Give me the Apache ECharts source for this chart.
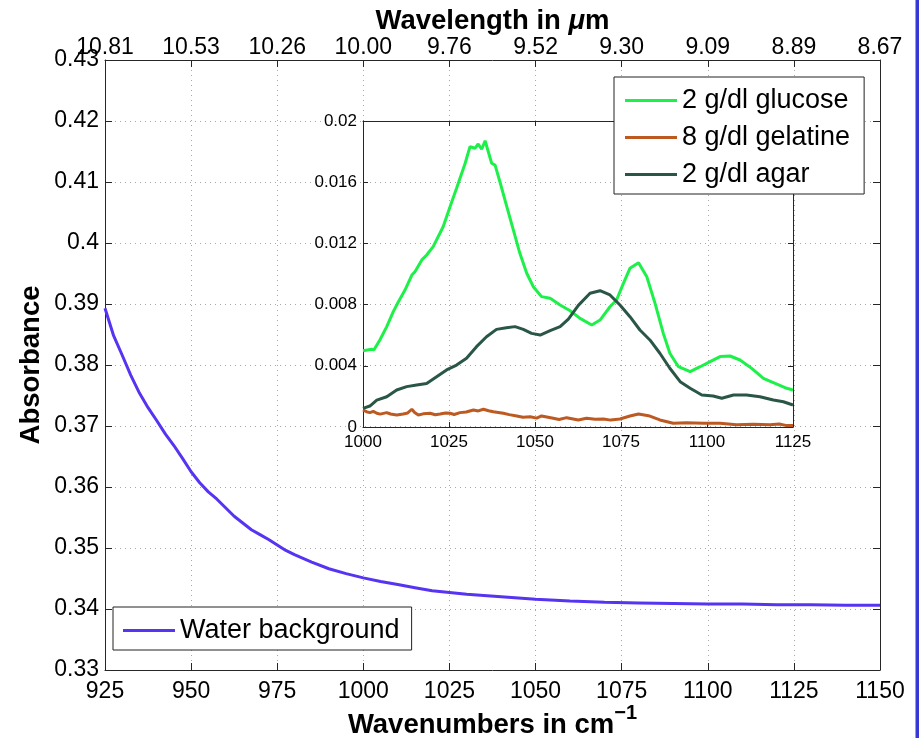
<!DOCTYPE html>
<html>
<head>
<meta charset="utf-8">
<title>Absorbance spectra</title>
<script src="https://cdn.jsdelivr.net/npm/echarts@6/dist/echarts.min.js"></script>
<style>
  html, body { margin: 0; padding: 0; background: #ffffff; }
  #chart { width: 919px; height: 738px; }
</style>
</head>
<body>
<div id="chart"></div>
<script>
// Water background absorbance over the full wavenumber range (cm^-1)
const waterWn = [925, 927.5, 930, 932.5, 935, 937.5, 940, 942.5, 945, 947.5, 950, 952.5, 955, 957.5, 960, 962.5, 965, 967.5, 970, 972.5, 975, 977.5, 980, 985, 990, 995, 1000, 1005, 1010, 1015, 1020, 1025, 1030, 1035, 1040, 1045, 1050, 1060, 1070, 1080, 1090, 1100, 1110, 1120, 1130, 1140, 1150];
const waterAbs = [0.3893, 0.3848, 0.3816, 0.3783, 0.3754, 0.3730, 0.3709, 0.3687, 0.3668, 0.3647, 0.3625, 0.3607, 0.3592, 0.3580, 0.3566, 0.3552, 0.3541, 0.3530, 0.3522, 0.3514, 0.3505, 0.3496, 0.3489, 0.3477, 0.3466, 0.3458, 0.3451, 0.3445, 0.3440, 0.3435, 0.3430, 0.3427, 0.3424, 0.3422, 0.3420, 0.3418, 0.3416, 0.3413, 0.3411, 0.3410, 0.3409, 0.3408, 0.3408, 0.3407, 0.3407, 0.3406, 0.3406];

// Inset: background-corrected sample spectra
const glucoseWn = [1000, 1002.5, 1003.2, 1004.9, 1006.9, 1008.8, 1010.3, 1012.2, 1014.2, 1015.1, 1017.1, 1018.5, 1020.4, 1023.3, 1025.3, 1027.2, 1029.7, 1031.1, 1032.6, 1033.5, 1034.5, 1035.5, 1037.4, 1038.4, 1039.8, 1041.8, 1043.7, 1045.6, 1047.6, 1049.5, 1051.9, 1054.4, 1057.3, 1060.2, 1063.1, 1066.5, 1068.9, 1071.8, 1073.7, 1075.7, 1077.6, 1080.1, 1082.5, 1084.9, 1087.3, 1089.2, 1091.7, 1095.1, 1098.0, 1100.9, 1103.8, 1106.7, 1109.6, 1113.0, 1116.4, 1119.8, 1123.2, 1125];
const glucoseAbs = [0.00499, 0.00508, 0.00505, 0.00569, 0.00656, 0.00754, 0.00819, 0.00895, 0.00993, 0.01015, 0.01092, 0.01124, 0.01179, 0.01309, 0.01440, 0.01560, 0.01724, 0.01832, 0.01822, 0.01850, 0.01815, 0.01871, 0.01724, 0.01712, 0.01603, 0.01440, 0.01288, 0.01135, 0.01005, 0.00917, 0.00852, 0.00841, 0.00797, 0.00760, 0.00710, 0.00667, 0.00699, 0.00786, 0.00830, 0.00939, 0.01037, 0.01074, 0.00982, 0.00808, 0.00612, 0.00482, 0.00394, 0.00362, 0.00394, 0.00427, 0.00460, 0.00464, 0.00438, 0.00383, 0.00318, 0.00285, 0.00253, 0.00242];

const gelatineWn = [1000, 1001, 1002, 1003, 1004, 1005, 1006.9, 1008, 1009.8, 1011.7, 1013, 1014.2, 1015, 1016.1, 1017.5, 1019.5, 1021, 1022.4, 1024, 1025.3, 1026.5, 1028.2, 1030, 1032.1, 1033.5, 1035, 1036.5, 1037.9, 1040.8, 1042.5, 1044.7, 1046.5, 1048.6, 1050.5, 1051.9, 1055.3, 1057, 1059.2, 1062.6, 1065, 1067.5, 1069.9, 1072, 1074.7, 1077.6, 1080.1, 1083, 1086.3, 1090.2, 1094.1, 1099, 1103.8, 1108.6, 1113.5, 1118.3, 1121, 1123.2, 1125];
const gelatineAbs = [0.00111, 0.00100, 0.00094, 0.00102, 0.00090, 0.00084, 0.00094, 0.00085, 0.00078, 0.00085, 0.00092, 0.00116, 0.00095, 0.00078, 0.00086, 0.00090, 0.00080, 0.00085, 0.00092, 0.00090, 0.00082, 0.00094, 0.00098, 0.00111, 0.00105, 0.00116, 0.00106, 0.00100, 0.00090, 0.00081, 0.00072, 0.00064, 0.00067, 0.00058, 0.00072, 0.00057, 0.00049, 0.00061, 0.00046, 0.00057, 0.00050, 0.00052, 0.00045, 0.00052, 0.00072, 0.00085, 0.00074, 0.00046, 0.00024, 0.00028, 0.00024, 0.00024, 0.00015, 0.00018, 0.00015, 0.00020, 0.00009, 0.00009];

const agarWn = [1000, 1002, 1004, 1006.9, 1009.8, 1012.7, 1015.6, 1018.5, 1021.4, 1024.3, 1027.2, 1030.1, 1033, 1035.9, 1038.8, 1041.7, 1044.2, 1046.6, 1049, 1051.5, 1054.4, 1057.3, 1059.7, 1062.6, 1066, 1068.9, 1071.8, 1074.7, 1077.6, 1080.5, 1083.4, 1086.3, 1089.2, 1092.2, 1095.1, 1098.5, 1101.8, 1104.3, 1107.7, 1111.5, 1115.4, 1119.3, 1122.2, 1125];
const agarAbs = [0.00122, 0.00137, 0.00176, 0.00198, 0.00242, 0.00264, 0.00275, 0.00285, 0.00329, 0.00373, 0.00405, 0.00449, 0.00525, 0.00590, 0.00638, 0.00649, 0.00656, 0.00638, 0.00612, 0.00601, 0.00630, 0.00656, 0.00705, 0.00795, 0.00874, 0.00891, 0.00863, 0.00797, 0.00721, 0.00634, 0.00569, 0.00482, 0.00384, 0.00296, 0.00253, 0.00209, 0.00203, 0.00188, 0.00209, 0.00209, 0.00198, 0.00176, 0.00165, 0.00144];

// Tick labels
const wavenumberTicks = ['925', '950', '975', '1000', '1025', '1050', '1075', '1100', '1125', '1150'];
const wavelengthTicks = ['10.81', '10.53', '10.26', '10.00', '9.76', '9.52', '9.30', '9.09', '8.89', '8.67'];
const absorbanceTicks = ['0.33', '0.34', '0.35', '0.36', '0.37', '0.38', '0.39', '0.4', '0.41', '0.42', '0.43'];
const insetXTicks = ['1000', '1025', '1050', '1075', '1100', '1125'];
const insetYTicks = ['0', '0.004', '0.008', '0.012', '0.016', '0.02'];

const seriesNames = ['Water background', '2 g/dl glucose', '8 g/dl gelatine', '2 g/dl agar'];
const seriesColors = ['#5634f2', '#1ef04a', '#bd5a22', '#2a5646'];

const FONT = 'Liberation Sans, Arial, Helvetica, sans-serif';
const AXIS_COLOR = '#262626';

function pairs(xs, ys) { return xs.map((x, i) => [x, ys[i]]); }
function tickFrom(labels, min, step) {
  return v => { const i = Math.round((v - min) / step); return labels[i] !== undefined ? labels[i] : ''; };
}

const chart = echarts.init(document.getElementById('chart'), null, { renderer: 'canvas' });

const mainSplit = { show: true, lineStyle: { color: '#a8a8a8', type: [1, 4], width: 1 } };
const axisLine = { show: true, onZero: false, lineStyle: { color: AXIS_COLOR, width: 1 } };

chart.setOption({
  animation: false,
  backgroundColor: '#ffffff',
  textStyle: { fontFamily: FONT },
  grid: [
    { left: 105, top: 60, width: 775, height: 610, containLabel: false, outerBoundsMode: 'none' },
    { left: 363, top: 121, width: 430, height: 306, containLabel: false, outerBoundsMode: 'none' }
  ],
  xAxis: [
    {
      gridIndex: 0, type: 'value', position: 'bottom', min: 925, max: 1150, interval: 25,
      axisLine, axisTick: { show: true, inside: true, length: 7, lineStyle: { color: AXIS_COLOR } },
      axisLabel: { fontSize: 23, color: '#000', margin: 10, fontFamily: FONT, formatter: tickFrom(wavenumberTicks, 925, 25) },
      splitLine: mainSplit,
      name: '{a|Wavenumbers in cm}{s|\u22121}', nameLocation: 'middle', nameGap: 33, nameMoveOverlap: false,
      nameTextStyle: {
        rich: {
          a: { fontSize: 27.5, fontWeight: 'bold', color: '#000', fontFamily: FONT, lineHeight: 36, verticalAlign: 'bottom' },
          s: { fontSize: 20, fontWeight: 'bold', color: '#000', fontFamily: FONT, lineHeight: 20, verticalAlign: 'top' }
        }
      }
    },
    {
      gridIndex: 0, type: 'value', position: 'top', min: 925, max: 1150, interval: 25,
      axisLine, axisTick: { show: true, inside: true, length: 7, lineStyle: { color: AXIS_COLOR } },
      axisLabel: { fontSize: 23, color: '#000', margin: 1, fontFamily: FONT, formatter: tickFrom(wavelengthTicks, 925, 25) },
      splitLine: { show: false },
      name: '{a|Wavelength in }{i|\u03bc}{a|m}', nameLocation: 'middle', nameGap: 25, nameMoveOverlap: false,
      nameTextStyle: {
        rich: {
          a: { fontSize: 27.5, fontWeight: 'bold', color: '#000', fontFamily: FONT },
          i: { fontSize: 27.5, fontWeight: 'bold', fontStyle: 'italic', color: '#000', fontFamily: FONT }
        }
      }
    },
    {
      gridIndex: 1, type: 'value', position: 'bottom', min: 1000, max: 1125, interval: 25,
      axisLine, axisTick: { show: true, inside: true, length: 5, lineStyle: { color: AXIS_COLOR } },
      axisLabel: { fontSize: 17, color: '#000', margin: 7, fontFamily: FONT, formatter: tickFrom(insetXTicks, 1000, 25) },
      splitLine: { show: false }
    },
    {
      gridIndex: 1, type: 'value', position: 'top', min: 1000, max: 1125, interval: 25,
      axisLine, axisTick: { show: true, inside: true, length: 5, lineStyle: { color: AXIS_COLOR } },
      axisLabel: { show: false }, splitLine: { show: false }
    }
  ],
  yAxis: [
    {
      gridIndex: 0, type: 'value', position: 'left', min: 0.33, max: 0.43, interval: 0.01,
      axisLine, axisTick: { show: true, inside: true, length: 7, lineStyle: { color: AXIS_COLOR } },
      axisLabel: { fontSize: 23, color: '#000', margin: 6, fontFamily: FONT, formatter: tickFrom(absorbanceTicks, 0.33, 0.01) },
      splitLine: mainSplit,
      name: 'Absorbance', nameLocation: 'middle', nameGap: 60, nameRotate: 90, nameMoveOverlap: false,
      nameTextStyle: { fontSize: 27.5, fontWeight: 'bold', color: '#000', fontFamily: FONT }
    },
    {
      gridIndex: 0, type: 'value', position: 'right', min: 0.33, max: 0.43, interval: 0.01,
      axisLine, axisTick: { show: true, inside: true, length: 7, lineStyle: { color: AXIS_COLOR } },
      axisLabel: { show: false }, splitLine: { show: false }
    },
    {
      gridIndex: 1, type: 'value', position: 'left', min: 0, max: 0.02, interval: 0.004,
      axisLine, axisTick: { show: true, inside: true, length: 5, lineStyle: { color: AXIS_COLOR } },
      axisLabel: { fontSize: 17, color: '#000', margin: 6, fontFamily: FONT, formatter: tickFrom(insetYTicks, 0, 0.004) },
      splitLine: { show: false }
    },
    {
      gridIndex: 1, type: 'value', position: 'right', min: 0, max: 0.02, interval: 0.004,
      axisLine, axisTick: { show: true, inside: true, length: 5, lineStyle: { color: AXIS_COLOR } },
      axisLabel: { show: false }, splitLine: { show: false }
    }
  ],
  legend: [
    {
      data: [seriesNames[0]], orient: 'vertical', left: 113, top: 607,
      icon: 'rect', itemWidth: 52, itemHeight: 3, itemGap: 10,
      padding: [10, 12, 6, 10], borderColor: '#222', borderWidth: 1, backgroundColor: '#ffffff',
      selectedMode: false,
      textStyle: { fontSize: 27, lineHeight: 27, color: '#000', fontFamily: FONT }
    },
    {
      data: seriesNames.slice(1), orient: 'vertical', left: 614, top: 77,
      icon: 'rect', itemWidth: 52, itemHeight: 3, itemGap: 10,
      padding: [10, 14, 6, 11], borderColor: '#222', borderWidth: 1, backgroundColor: '#ffffff',
      selectedMode: false,
      textStyle: { fontSize: 27, lineHeight: 27, color: '#000', fontFamily: FONT }
    }
  ],
  graphic: [
    { type: 'rect', shape: { x: 915.5, y: 0, width: 3.5, height: 738 }, style: { fill: '#3838d4' }, silent: true }
  ],
  series: [
    {
      name: seriesNames[0], type: 'line', xAxisIndex: 0, yAxisIndex: 0,
      data: pairs(waterWn, waterAbs), showSymbol: false, color: seriesColors[0],
      lineStyle: { width: 3, color: seriesColors[0] }
    },
    {
      name: seriesNames[1], type: 'line', xAxisIndex: 2, yAxisIndex: 2,
      data: pairs(glucoseWn, glucoseAbs), showSymbol: false, color: seriesColors[1],
      lineStyle: { width: 3, color: seriesColors[1] }
    },
    {
      name: seriesNames[2], type: 'line', xAxisIndex: 2, yAxisIndex: 2,
      data: pairs(gelatineWn, gelatineAbs), showSymbol: false, color: seriesColors[2],
      lineStyle: { width: 3, color: seriesColors[2] }
    },
    {
      name: seriesNames[3], type: 'line', xAxisIndex: 2, yAxisIndex: 2,
      data: pairs(agarWn, agarAbs), showSymbol: false, color: seriesColors[3],
      lineStyle: { width: 3, color: seriesColors[3] }
    }
  ]
});
</script>
</body>
</html>
